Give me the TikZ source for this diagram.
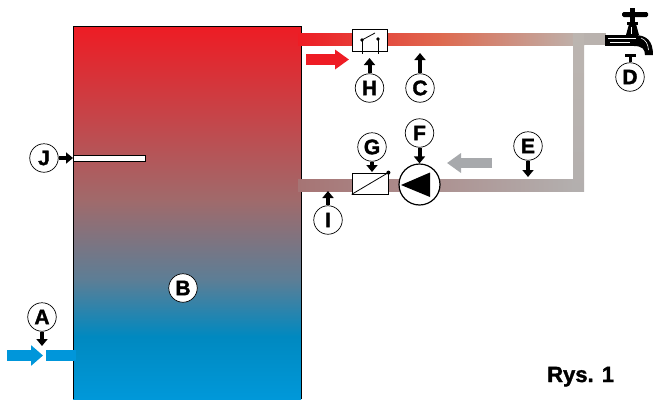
\documentclass[tikz,border=0pt]{standalone}
\usepackage{fontspec}
\setmainfont{Liberation Sans}
\newfontfamily\heavyfont[BoldFeatures={FakeBold=1.6}]{Liberation Sans}
\usetikzlibrary{arrows.meta}
% water colours
\definecolor{hotred}{HTML}{EE1C24}
\definecolor{tankmid}{HTML}{A06A6B}
\definecolor{tankmix}{HTML}{5C7E96}
\definecolor{tankblue}{HTML}{0089C0}
\definecolor{coldblue}{HTML}{0098D9}
\definecolor{inletblue}{HTML}{0096DA}
\definecolor{pipewarm}{HTML}{DE6A50}
\definecolor{pipegrey}{HTML}{BCB5B0}
\definecolor{returnleft}{HTML}{A67474}
\definecolor{returnright}{HTML}{B3AFAE}
\definecolor{flowgrey}{HTML}{A7A9AC}
\begin{document}
\begin{tikzpicture}[x=1pt,y=-1pt,
  lbl/.style={circle,draw,line width=0.7pt,fill=white,minimum size=28.5pt,inner sep=0pt,
              font=\heavyfont\fontsize{21}{21}\selectfont\bfseries},
  ptr/.style={line width=4pt,-{Triangle[width=11pt,length=7pt]}},
  flow/.style={-{Triangle[width=19pt,length=14pt]}},
  device/.style={draw,fill=white,line width=0.8pt,inner sep=0pt}]
\useasboundingbox (0,0) rectangle (653,399);

% storage tank with temperature layering
\shade[top color=hotred, bottom color=tankmid] (73,26) rectangle (301,200.5);
\shade[top color=tankmid, bottom color=tankmix] (73,200) rectangle (301,280.5);
\shade[top color=tankmix, bottom color=tankblue] (73,280) rectangle (301,336.5);
\shade[top color=tankblue, bottom color=coldblue] (73,336) rectangle (301,399);
\draw[line width=0.8pt] (73,399) -- (73,26) -- (301,26) -- (301,399);

% sensor pocket
\draw[fill=white,line width=0.6pt] (73,155) rectangle (145,161);

% hot water line to the tap
\shade[left color=hotred, right color=pipegrey, middle color=pipewarm] (298,33) rectangle (584,45);
\fill[pipegrey!95!gray] (583.5,33) rectangle (606,45);
% circulation riser and return line
\shade[top color=pipegrey, bottom color=returnright] (573,33) rectangle (584,191);
\shade[left color=returnleft, right color=returnright] (298,179) rectangle (574,191);

% tap
\begin{scope}
  \fill (605,35) rectangle (638,46);
  \fill (634,35) .. controls (647,35) and (653,41) .. (653,55) -- (645,55)
        .. controls (645,49) and (642,46) .. (634,46) -- cycle;
  \fill (626,35) -- (629,24) -- (636,24) -- (639,35) -- cycle;
  \fill (627,22) rectangle (638,25);
  \fill[rounded corners=1.5pt] (622,12) rectangle (648,17);
  \fill (630,8) rectangle (635,24);
  \draw[white,line width=0.8pt] (608,38.5) -- (636,38.5);
  \draw[white,line width=0.6pt] (610,42) -- (630,42);
  \draw[white,line width=0.6pt] (641,38) .. controls (646,40) and (648,44) .. (648.5,50);
  \draw[white,line width=0.5pt] (631,27) -- (631,34);
\end{scope}

% flow arrows
\coordinate (redS) at (306,59.5);
\coordinate (redE) at (349,59.5);
\draw[hotred,line width=11pt,flow] (redS) -- (redE);
\coordinate (greyS) at (492,163);
\coordinate (greyE) at (447,163);
\draw[flowgrey,line width=10pt,flow] (greyS) -- (greyE);
\coordinate (blueS) at (7,355.5);
\coordinate (blueE) at (43,355.5);
\draw[inletblue,line width=11pt,-{Triangle[width=20pt,length=12pt]}] (blueS) -- (blueE);
\fill[inletblue] (46,350) rectangle (76,361);

% thermostat switch
\node[device,minimum width=35pt,minimum height=22pt] (sw) at (369.5,40) {};
\coordinate (swA) at (362,40);
\coordinate (swB) at (378,39);
\draw[line width=0.8pt] (swA) -- (375,33);
\draw[line width=0.8pt] (swA) -- (362,54) (swB) -- (378,54);
\fill (swA) circle (1.8pt) (swB) circle (1.8pt);

% valve
\node[device,minimum width=36pt,minimum height=21pt] (valve) at (370,183.5) {};
\draw[line width=0.8pt] (valve.south west) -- (valve.north east);
\fill (valve.north east) circle (2pt);

% circulation pump
\node[circle,draw,line width=1.2pt,fill=white,minimum size=41pt,inner sep=0pt] (pump) at (419.5,184.5) {};
\fill (401,185) -- (430,172.5) -- (430,197) -- cycle;

% labels
\node[lbl] (lA) at (42,317) {A};
\node[lbl] (lB) at (183,288) {B};
\node[lbl] (lC) at (420,88) {C};
\node[lbl] (lD) at (630,77) {D};
\node[lbl] (lE) at (528,146) {E};
\node[lbl] (lF) at (419.5,133) {F};
\node[lbl] (lG) at (372,147) {G};
\node[lbl] (lH) at (369.5,88) {H};
\node[lbl] (lI) at (328,220) {I};
\node[lbl] (lJ) at (44,158) {J};

% label pointers
\coordinate (tA) at (42,346);
\coordinate (tC) at (420,53);
\coordinate (tD) at (630,54);
\coordinate (tE) at (528,177);
\coordinate (tG) at (372,172);
\coordinate (tH) at (369.5,58);
\coordinate (tI) at (328,191);
\coordinate (tJ) at (73,158);
\draw[ptr] (lA) -- (tA);
\draw[ptr] (lC) -- (tC);
\draw[line width=3pt,-{Rectangle[width=11pt,length=3pt]}] (lD) -- (tD);
\draw[ptr] (lE) -- (tE);
\draw[ptr] (lF) -- (pump);
\draw[ptr] (lG) -- (tG);
\draw[ptr] (lH) -- (tH);
\draw[ptr] (lI) -- (tI);
\draw[ptr] (lJ) -- (tJ);

% caption
\node[anchor=base west,inner sep=0pt,font=\heavyfont\fontsize{22}{22}\selectfont\bfseries] (cap) at (547,382) {Rys. 1};
\end{tikzpicture}
\end{document}
